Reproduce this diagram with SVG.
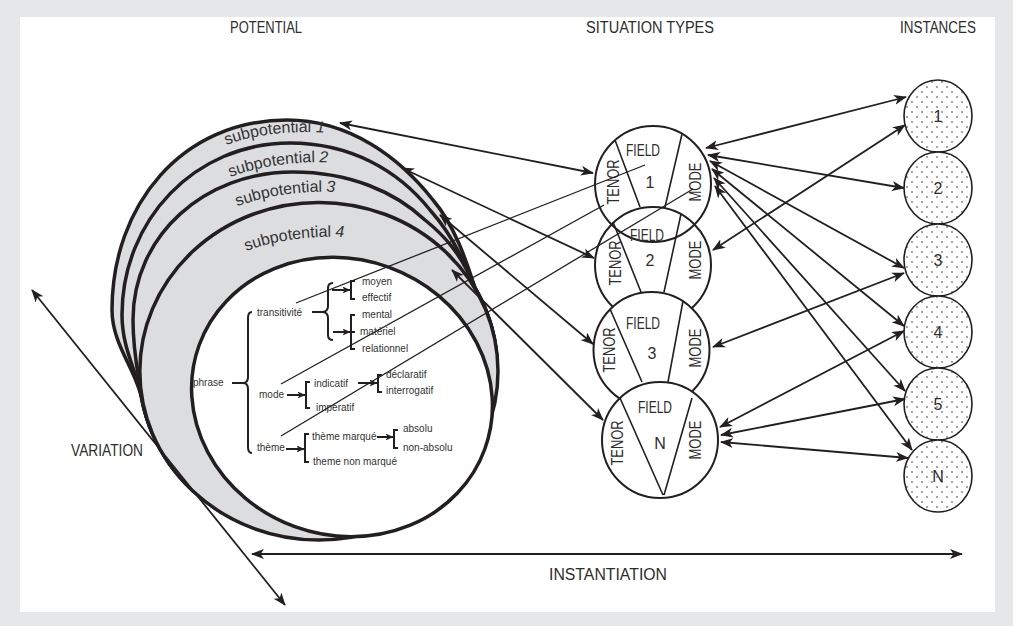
<svg xmlns="http://www.w3.org/2000/svg" width="1013" height="626" viewBox="0 0 1013 626">
  <defs>
    <style>
      .ttl { font-family: 'Liberation Sans', Arial, sans-serif; font-size: 16px; fill: #2d2d2d; text-anchor: middle; }
      .reg { font-family: 'Liberation Sans', Arial, sans-serif; font-size: 16px; fill: #2d2d2d; text-anchor: middle; }
      .net { font-family: 'Liberation Sans', Arial, sans-serif; font-size: 10px; fill: #333; }
      .sub { font-family: 'Liberation Sans', Arial, sans-serif; font-size: 16px; fill: #333; }
      .ring { fill: #dcdddf; stroke: #231f20; stroke-width: 3.5; stroke-linejoin: round; }
      .core { fill: #fff; stroke: #231f20; stroke-width: 3.5; }
      .sit { stroke: #231f20; stroke-width: 2; }
      .div { stroke: #231f20; stroke-width: 1.6; fill: none; }
      .inst { fill: url(#dots); stroke: #231f20; stroke-width: 1.6; }
      .brk { fill: none; stroke: #231f20; stroke-width: 2; }
      .ar { fill: none; stroke: #231f20; stroke-width: 1.8; marker-start: url(#ah); marker-end: url(#ah); }
      .thin { fill: none; stroke: #231f20; stroke-width: 1.3; }
      .sarr { fill: none; stroke: #231f20; stroke-width: 2; marker-end: url(#sah); }
    </style>
    <marker id="ah" viewBox="0 0 13 10" refX="12" refY="5" markerWidth="13" markerHeight="10" markerUnits="userSpaceOnUse" orient="auto-start-reverse">
      <path d="M0,0 L13,5 L0,10 L3.5,5 z" fill="#231f20"/>
    </marker>
    <marker id="sah" viewBox="0 0 8 7" refX="7.5" refY="3.5" markerWidth="8" markerHeight="7" markerUnits="userSpaceOnUse" orient="auto">
      <path d="M0,0 L8,3.5 L0,7 L2,3.5 z" fill="#231f20"/>
    </marker>
    <pattern id="dots" width="10" height="10" patternUnits="userSpaceOnUse">
      <rect width="10" height="10" fill="#fff"/>
      <circle cx="2" cy="2" r="0.75" fill="#231f20"/>
      <circle cx="7" cy="7" r="0.75" fill="#231f20"/>
    </pattern>
    <!-- baselines for the curved ring labels -->
    <path id="sp1" d="M212,151 Q265,126 340,134"/>
    <path id="sp2" d="M216,183 Q270,158 344,163"/>
    <path id="sp3" d="M224,212 Q278,187 350,193"/>
    <path id="sp4" d="M232,257 Q286,232 360,238"/>
  </defs>

  <!-- frame -->
  <rect x="0" y="0" width="1013" height="626" fill="#e6e7e8"/>
  <rect x="20" y="17" width="975" height="595" fill="#fff"/>

  <!-- column headings -->
  <g id="headings">
    <text class="ttl" x="266" y="33" textLength="72" lengthAdjust="spacingAndGlyphs">POTENTIAL</text>
    <text class="ttl" x="650" y="33" textLength="128" lengthAdjust="spacingAndGlyphs">SITUATION TYPES</text>
    <text class="ttl" x="938" y="33" textLength="76" lengthAdjust="spacingAndGlyphs">INSTANCES</text>
  </g>

  <!-- potential: nested subpotentials sharing their lower-right arc -->
  <g id="potential">
    <path class="ring" d="M142,400 A179.1,168.8 0 1 0 475,288 C469,270 457,228 433,200 C400,158 350,120 287,120 C182,120 112,205 112,310 C112,345 137,371 142,400 Z"/>
    <path class="ring" d="M142,400 A179.1,168.8 0 1 0 475,288 C465,262 450,232 430,210 C398,170 350,143 290,143 C195,143 122,220 122,315 C122,350 138,373 142,400 Z"/>
    <path class="ring" d="M142,400 A179.1,168.8 0 1 0 475,288 C462,255 445,236 425,220 C395,192 350,172 293,172 C205,172 133,235 133,320 C133,355 139,376 142,400 Z"/>
    <ellipse class="ring" cx="318.9" cy="371.2" rx="179.1" ry="168.8"/>
    <ellipse class="core" cx="342" cy="397" rx="152" ry="138" transform="rotate(20 342 397)"/>
    <text class="sub" text-anchor="middle"><textPath href="#sp1" startOffset="50%">subpotential <tspan font-style="italic">1</tspan></textPath></text>
    <text class="sub" text-anchor="middle"><textPath href="#sp2" startOffset="50%">subpotential <tspan font-style="italic">2</tspan></textPath></text>
    <text class="sub" text-anchor="middle"><textPath href="#sp3" startOffset="50%">subpotential <tspan font-style="italic">3</tspan></textPath></text>
    <text class="sub" text-anchor="middle"><textPath href="#sp4" startOffset="50%">subpotential <tspan font-style="italic">4</tspan></textPath></text>
  </g>

  <!-- system network -->
  <g id="network">
    <text class="net" x="193" y="386">phrase</text>
    <line class="brk" x1="232" y1="383" x2="243" y2="383"/>
    <path class="brk" d="M252,312 Q248,312 248,318 L248,377 Q248,383 243,383 Q248,383 248,389 L248,447 Q248,453 252,453"/>

    <text class="net" x="257" y="316">transitivité</text>
    <line class="brk" x1="312" y1="312" x2="322" y2="312"/>
    <path class="brk" d="M333,283 Q328,283 328,288 L328,306 Q328,312 322,312 Q328,312 328,318 L328,335 Q328,340 333,340"/>
    <line class="sarr" x1="332" y1="290" x2="350" y2="290"/>
    <path class="brk" d="M355,281 L351,281 L351,299 L355,299"/>
    <text class="net" x="362" y="285">moyen</text>
    <text class="net" x="362" y="301">effectif</text>
    <line class="sarr" x1="333" y1="332" x2="350" y2="332"/>
    <path class="brk" d="M355,315 L351,315 L351,349 L355,349 M351,332 L355,332"/>
    <text class="net" x="362" y="318">mental</text>
    <text class="net" x="360" y="335">matériel</text>
    <text class="net" x="362" y="352">relationnel</text>

    <text class="net" x="259" y="398">mode</text>
    <line class="sarr" x1="287" y1="395" x2="305" y2="395"/>
    <path class="brk" d="M310,382 L306,382 L306,408 L310,408"/>
    <text class="net" x="314" y="387">indicatif</text>
    <text class="net" x="316" y="411">impératif</text>
    <line class="sarr" x1="358" y1="383" x2="377" y2="383"/>
    <path class="brk" d="M382,375 L378,375 L378,392 L382,392"/>
    <text class="net" x="386" y="378">déclaratif</text>
    <text class="net" x="386" y="394">interrogatif</text>

    <text class="net" x="257" y="451">thème</text>
    <line class="sarr" x1="286" y1="449" x2="304" y2="449"/>
    <path class="brk" d="M309,434 L305,434 L305,462 L309,462"/>
    <text class="net" x="312" y="440">thème marqué</text>
    <text class="net" x="313" y="465">theme non marqué</text>
    <line class="sarr" x1="377" y1="437" x2="393" y2="437"/>
    <path class="brk" d="M398,430 L394,430 L394,448 L398,448"/>
    <text class="net" x="403" y="432">absolu</text>
    <text class="net" x="403" y="451">non-absolu</text>
  </g>

  <!-- situation types -->
  <g id="situation-1">
    <circle class="sit" cx="653" cy="184" r="58" fill="none"/>
    <path class="div" d="M615,140 L640,207 M682,134 L665,207"/>
    <text class="reg" x="643" y="156" textLength="34" lengthAdjust="spacingAndGlyphs">FIELD</text>
    <text class="reg" x="650" y="188">1</text>
    <text class="reg" transform="translate(619,182) rotate(-90)" textLength="45" lengthAdjust="spacingAndGlyphs">TENOR</text>
    <text class="reg" transform="translate(701,182) rotate(-90)" textLength="39" lengthAdjust="spacingAndGlyphs">MODE</text>
  </g>
  <g id="situation-2">
    <circle class="sit" cx="653" cy="265" r="58" fill="none"/>
    <path class="div" d="M613,222 L641,292 M681,214 L664,292"/>
    <text class="reg" x="647" y="241" textLength="34" lengthAdjust="spacingAndGlyphs">FIELD</text>
    <text class="reg" x="650" y="266">2</text>
    <text class="reg" transform="translate(621,263) rotate(-90)" textLength="45" lengthAdjust="spacingAndGlyphs">TENOR</text>
    <text class="reg" transform="translate(701,260) rotate(-90)" textLength="39" lengthAdjust="spacingAndGlyphs">MODE</text>
  </g>
  <g id="situation-3">
    <circle class="sit" cx="651.5" cy="350" r="58" fill="#fff"/>
    <path class="div" d="M610,309 L642,382 M683,301 L668,382"/>
    <text class="reg" x="643" y="329" textLength="34" lengthAdjust="spacingAndGlyphs">FIELD</text>
    <text class="reg" x="652" y="359">3</text>
    <text class="reg" transform="translate(615,350) rotate(-90)" textLength="45" lengthAdjust="spacingAndGlyphs">TENOR</text>
    <text class="reg" transform="translate(701,348) rotate(-90)" textLength="39" lengthAdjust="spacingAndGlyphs">MODE</text>
  </g>
  <g id="situation-N">
    <circle class="sit" cx="660" cy="440" r="58" fill="#fff"/>
    <path class="div" d="M620,398 L663,495 M692,398 L664,495"/>
    <text class="reg" x="655" y="413" textLength="34" lengthAdjust="spacingAndGlyphs">FIELD</text>
    <text class="reg" x="660" y="449">N</text>
    <text class="reg" transform="translate(623,443) rotate(-90)" textLength="45" lengthAdjust="spacingAndGlyphs">TENOR</text>
    <text class="reg" transform="translate(701,440) rotate(-90)" textLength="39" lengthAdjust="spacingAndGlyphs">MODE</text>
  </g>

  <!-- instances -->
  <g id="instance-1"><ellipse class="inst" cx="938" cy="116" rx="34" ry="36"/><text class="reg" x="938" y="122">1</text></g>
  <g id="instance-2"><ellipse class="inst" cx="938" cy="188" rx="34" ry="36"/><text class="reg" x="938" y="194">2</text></g>
  <g id="instance-3"><ellipse class="inst" cx="938" cy="260" rx="34" ry="36"/><text class="reg" x="938" y="266">3</text></g>
  <g id="instance-4"><ellipse class="inst" cx="938" cy="332" rx="34" ry="36"/><text class="reg" x="938" y="338">4</text></g>
  <g id="instance-5"><ellipse class="inst" cx="938" cy="404" rx="34" ry="36"/><text class="reg" x="938" y="410">5</text></g>
  <g id="instance-N"><ellipse class="inst" cx="938" cy="476" rx="34" ry="36"/><text class="reg" x="938" y="482">N</text></g>

  <!-- connectors -->
  <g id="connectors">
    <!-- subpotentials to situation types -->
    <line class="ar" x1="340" y1="123" x2="593" y2="173"/>
    <line class="ar" x1="402" y1="168" x2="594" y2="258"/>
    <line class="ar" x1="440" y1="215" x2="593" y2="344"/>
    <line class="ar" x1="452" y1="270" x2="603" y2="420"/>
    <!-- network features to register variables -->
    <line class="thin" x1="296" y1="303" x2="645" y2="165"/>
    <line class="thin" x1="281" y1="384" x2="604" y2="205"/>
    <line class="thin" x1="281" y1="436" x2="693" y2="189"/>
    <!-- situation types to instances -->
    <line class="ar" x1="706" y1="148" x2="906" y2="97"/>
    <line class="ar" x1="708" y1="155" x2="904" y2="188"/>
    <line class="ar" x1="710" y1="161" x2="904" y2="268"/>
    <line class="ar" x1="712" y1="169" x2="904" y2="326"/>
    <line class="ar" x1="714" y1="178" x2="905" y2="391"/>
    <line class="ar" x1="715" y1="186" x2="912" y2="450"/>
    <line class="ar" x1="713" y1="250" x2="905" y2="125"/>
    <line class="ar" x1="713" y1="347" x2="904" y2="273"/>
    <line class="ar" x1="720" y1="427" x2="904" y2="331"/>
    <line class="ar" x1="721" y1="435" x2="905" y2="399"/>
    <line class="ar" x1="721" y1="442" x2="908" y2="458"/>
    <!-- axes -->
    <line class="ar" x1="32" y1="290" x2="285" y2="605"/>
    <line class="ar" x1="252" y1="554" x2="962" y2="554"/>
  </g>

  <g id="axis-labels">
    <text class="ttl" x="107" y="456" textLength="72" lengthAdjust="spacingAndGlyphs">VARIATION</text>
    <text class="ttl" x="608" y="580" textLength="118" lengthAdjust="spacingAndGlyphs">INSTANTIATION</text>
  </g>
</svg>
